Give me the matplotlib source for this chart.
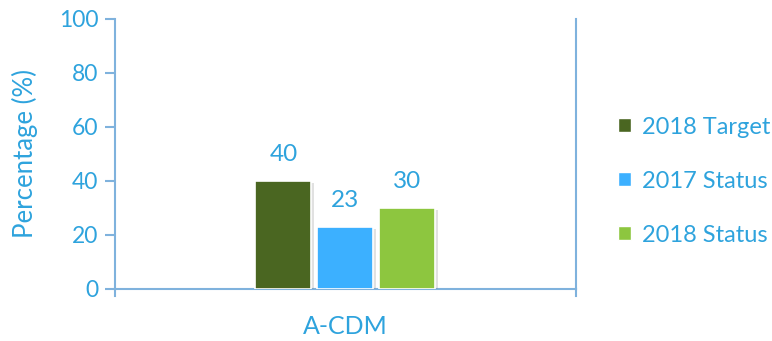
import matplotlib.pyplot as plt
import matplotlib.patheffects as pe
from matplotlib.patches import Patch

plt.rcParams['font.family'] = ['Lato', 'DejaVu Sans']

category = 'A-CDM'
series = ['2018 Target', '2017 Status', '2018 Status']
values = [40, 23, 30]
colors = ['#4a6621', '#3cb0ff', '#8dc63f']

text_color = '#2ea3dd'
axis_color = '#7fb2dd'

fig = plt.figure(figsize=(7.72, 3.41), dpi=100)
ax = fig.add_axes([0.149, 0.1525, 0.597, 0.792])

width = 0.1215
step = 0.1345
for i, (name, v, c) in enumerate(zip(series, values, colors)):
    x = (i - 1) * step
    bar = ax.bar(x, v, width=width, color=c, edgecolor='white', linewidth=1.2,
                 label=name, zorder=3)
    bar[0].set_path_effects([pe.SimplePatchShadow(offset=(1.5, -1.5), alpha=0.25,
                                                  shadow_rgbFace='#888888'),
                             pe.Normal()])
    ax.text(x, v + 6, str(v), ha='center', va='bottom', fontsize=17.5,
            color=text_color)

ax.set_xlim(-0.5, 0.5)
ax.set_ylim(0, 100)
ax.set_yticks(range(0, 101, 20))
ax.set_xticks([0])
ax.set_xticklabels([category])
ax.tick_params(axis='x', length=0, labelsize=18, labelcolor=text_color, pad=19)
ax.tick_params(axis='y', length=7, width=1.5, color=axis_color, labelsize=16.5,
               labelcolor=text_color, pad=5)

# category boundary ticks under the x axis
for xb in (-0.5, 0.5):
    ax.plot([xb, xb], [0, -2.5], color=axis_color, lw=1.5, clip_on=False, zorder=4)

ax.set_ylabel('Percentage (%)', fontsize=18.5, color=text_color, labelpad=15)

for side in ('left', 'bottom', 'right'):
    ax.spines[side].set_color(axis_color)
    ax.spines[side].set_linewidth(1.5)
ax.spines['top'].set_visible(False)

handles = [Patch(facecolor=c, edgecolor='white', label=n) for n, c in zip(series, colors)]
fig.legend(handles=handles, loc='center left', bbox_to_anchor=(0.8, 0.469),
           frameon=False, fontsize=17, labelcolor=text_color, handlelength=0.55,
           handleheight=0.55, handletextpad=0.5, labelspacing=1.4,
           borderaxespad=0, borderpad=0)

fig.savefig('out.png', dpi=100)
